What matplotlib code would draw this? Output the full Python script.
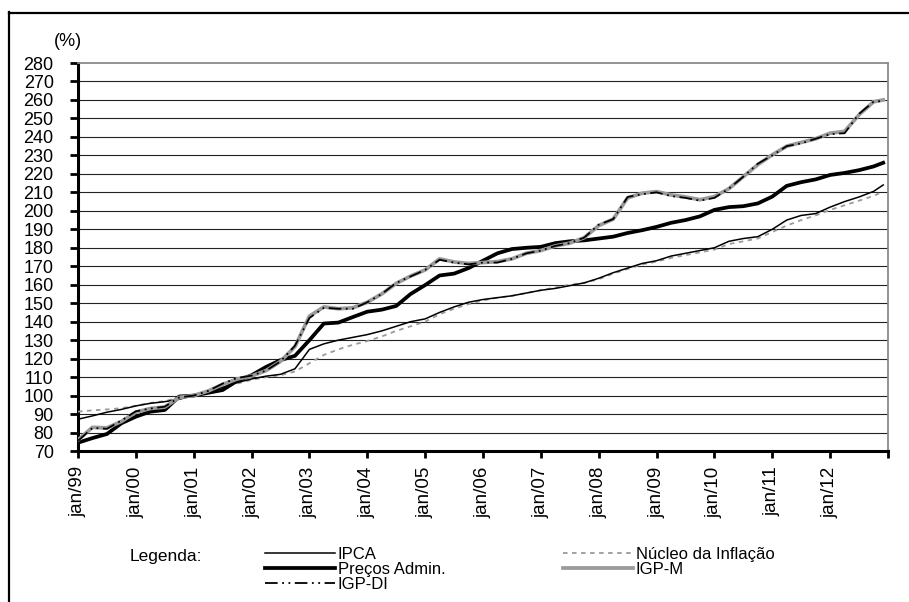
import matplotlib
matplotlib.use('Agg')
import matplotlib.pyplot as plt
from matplotlib import font_manager
from matplotlib.lines import Line2D

# ---------------- data (index) ----------------
months = [0, 3, 6, 9, 12, 15, 18, 21, 24, 27, 30, 33, 36, 39, 42, 45, 48, 51, 54, 57,
          60, 63, 66, 69, 72, 75, 78, 81, 84, 87, 90, 93, 96, 99, 102, 105, 108, 111,
          114, 117, 120, 123, 126, 129, 132, 135, 138, 141, 144, 147, 150, 153, 156,
          159, 162, 165, 167]

ipca = [87.2, 89, 91, 92.5, 94.4, 95.8, 96.7, 98, 100, 102, 104.5, 107, 109, 110.5,
        111.5, 114.5, 125, 128, 130, 131.5, 133, 135, 137.5, 140, 141.5, 145, 148,
        150.5, 152, 153, 154, 155.5, 157, 158, 159.5, 161, 163.5, 166.5, 169, 171.5,
        173, 175.5, 177, 178.5, 180, 183.5, 185, 186, 190, 195, 197.5, 198.5, 202,
        205, 207.5, 210.5, 214]

nucleo = [91.3, 92, 92.5, 93.2, 94.5, 96, 97, 99, 100, 102, 104, 106.5, 108.5, 110,
          111, 113, 117.5, 122, 125, 127.5, 129.5, 132, 135, 137.5, 140, 144, 147,
          149.5, 151.5, 153, 154, 155.5, 157, 158.5, 160, 161, 163, 166, 168.5, 171,
          172.5, 174.5, 176, 177.5, 179, 182, 183.5, 185, 188.5, 192, 195, 197.5,
          200.5, 203, 205.5, 208, 210.5]

precos_admin = [74.5, 77, 79.2, 85, 88.6, 91.3, 92.2, 99.5, 100, 101.5, 103, 108, 111,
                115.5, 119.2, 121.5, 130, 139, 139.5, 142.5, 145.4, 146.5, 148.5, 155,
                159.8, 165, 166, 169, 173, 177, 179.3, 180, 180.5, 182.5, 183.5, 184,
                185, 186, 188, 189.5, 191.3, 193.5, 195, 197, 200.5, 202, 202.5, 204,
                207.7, 213.5, 215.5, 217, 219.4, 220.5, 222, 224, 226]

igp_m = [76, 82.8, 82.5, 86, 91, 93, 93.8, 99, 100, 102.5, 106, 109, 110.6, 113.5,
         118.5, 126.5, 143, 148, 147, 147.5, 150.5, 155, 160.7, 164.7, 168, 174,
         172.3, 171.5, 172, 172.5, 174, 177, 178.5, 181, 182.5, 185.5, 192, 195.5,
         207, 209.5, 210.4, 208.6, 207.5, 206, 207.7, 212, 218.5, 225, 230.3, 235,
         237, 239, 242, 243, 252, 259, 260]

igp_di = [75.5, 82.5, 82, 86.5, 91.5, 93, 94, 99, 100, 102.5, 106.5, 109.5, 110.8,
          113.5, 118.5, 127, 142, 147.5, 147, 147, 150.5, 155, 161, 164.5, 168, 173.5,
          172, 171, 172, 172, 174, 177, 178.5, 181, 182.5, 185.5, 192.5, 195.5, 207.5,
          209, 210, 208, 207, 205.5, 207, 212, 218.5, 225.5, 230, 235, 236.5, 239,
          241.5, 242, 252.5, 259, 259.5]

tick_labels = ['jan/99', 'jan/00', 'jan/01', 'jan/02', 'jan/03', 'jan/04', 'jan/05',
               'jan/06', 'jan/07', 'jan/08', 'jan/09', 'jan/10', 'jan/11', 'jan/12']
tick_months = [0, 12, 24, 36, 48, 60, 72, 84, 96, 108, 120, 132, 144, 156, 168]
y_ticks = list(range(70, 290, 10))

# ---------------- fonts ----------------
def has_font(name):
    try:
        font_manager.findfont(font_manager.FontProperties(family=name),
                              fallback_to_default=False)
        return True
    except Exception:
        return False

base_font = 'Liberation Sans' if has_font('Liberation Sans') else 'DejaVu Sans'
narrow_font = 'Liberation Sans Narrow' if has_font('Liberation Sans Narrow') else base_font
plt.rcParams['font.family'] = [base_font, 'DejaVu Sans']

W, H = 909, 602
fig = plt.figure(figsize=(W / 100, H / 100), dpi=100)
fig.patch.set_facecolor('white')

left, right, top, bottom = 78, 888, 63, 451
ax = fig.add_axes([left / W, 1 - bottom / H, (right - left) / W, (bottom - top) / H])

# ---------------- series ----------------
ax.plot(months, nucleo, color='#9a9a9a', lw=1.3, ls=(0, (2.5, 2.5)), zorder=3,
        label='Núcleo da Inflação')
ax.plot(months, ipca, color='black', lw=1.1, zorder=4, label='IPCA')
ax.plot(months, precos_admin, color='black', lw=2.7, zorder=5, label='Preços Admin.')
ax.plot(months, igp_m, color='#9a9a9a', lw=2.7, zorder=6, label='IGP-M')
ax.plot(months, igp_di, color='black', lw=1.3, ls=(0, (7, 2.5, 1, 2.5, 1, 2.5)), zorder=7,
        label='IGP-DI')

# ---------------- axes ----------------
ax.set_xlim(0, 168)
ax.set_ylim(70, 280)
ax.set_yticks(y_ticks)
ax.set_yticklabels([str(v) for v in y_ticks], fontsize=13)
ax.set_xticks(tick_months)
ax.set_xticklabels(tick_labels + [''], rotation=90, fontsize=13.5, va='top', ha='center')

ax.tick_params(axis='y', direction='out', length=5.5, width=2, pad=12, color='black')
ax.tick_params(axis='x', direction='out', length=5, width=2, pad=6, color='black')

for yv in y_ticks[1:-1]:
    ax.axhline(yv, color='#222222', lw=0.8, zorder=1)

ax.spines['left'].set_linewidth(2.2)
ax.spines['bottom'].set_linewidth(2.2)
ax.spines['top'].set_color('#8a8a8a')
ax.spines['right'].set_color('#8a8a8a')
ax.spines['top'].set_linewidth(1.3)
ax.spines['right'].set_linewidth(1.3)

fig.text(68 / W, 1 - 42 / H, '(%)', fontsize=13, ha='center', va='center')

# ---------------- legend ----------------
h = {l.get_label(): l for l in ax.get_lines()}
order = ['IPCA', 'Preços Admin.', 'IGP-DI', 'Núcleo da Inflação', 'IGP-M']
leg = fig.legend([h[k] for k in order], order, loc='upper left',
                 bbox_to_anchor=(265 / W, 1 - 547 / H), ncol=2, frameon=False,
                 prop={'family': [narrow_font, 'DejaVu Sans'], 'size': 12},
                 handlelength=4.2, handletextpad=0.15, columnspacing=7.1,
                 labelspacing=0.0, borderpad=0, borderaxespad=0)
fig.text(130 / W, 1 - 556 / H, 'Legenda:', fontsize=12.5,
         family=[narrow_font, 'DejaVu Sans'], ha='left', va='center')

# ---------------- outer frame ----------------
fig.add_artist(Line2D([8.5 / W, 8.5 / W], [0, 1 - 12 / H], color='black', lw=1.6,
                      transform=fig.transFigure))
fig.add_artist(Line2D([8.5 / W, 1], [1 - 12.5 / H, 1 - 12.5 / H], color='black', lw=1.6,
                      transform=fig.transFigure))

fig.savefig('out.png', dpi=100)
